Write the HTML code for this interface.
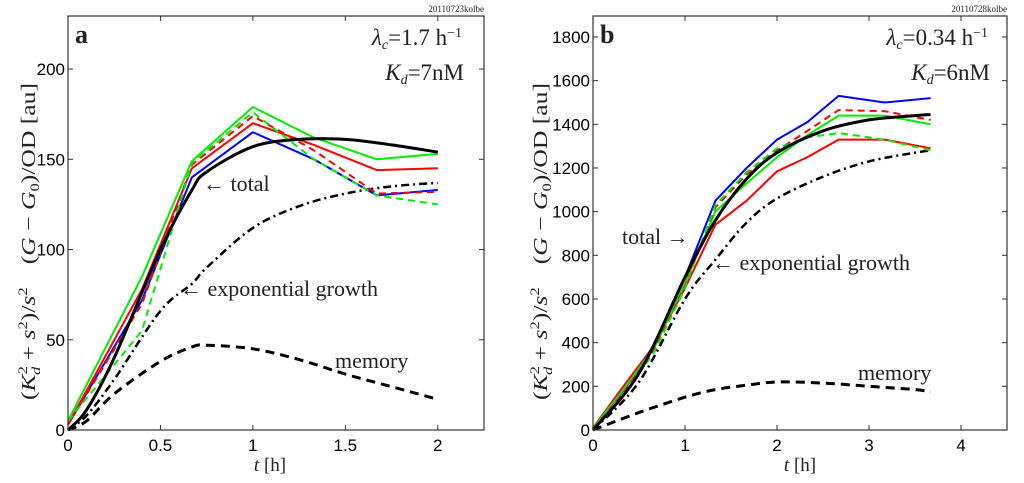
<!DOCTYPE html>
<html><head><meta charset="utf-8"><style>
html,body{margin:0;padding:0;background:#fff;width:1024px;height:483px;overflow:hidden}
svg{display:block}
.tk{font-family:"Liberation Sans",sans-serif;font-size:17px;fill:#000}
.ser{font-family:"Liberation Serif",serif;fill:#222}
</style></head><body>
<svg id="fig" width="1024" height="483"></svg>
<script>
// ---- Panel a data ----
const aTime = [0, 0.4, 0.67, 1, 1.33, 1.67, 2];
const aBlue = [3, 72, 140, 165, 150, 130, 133];
const aRed = [3, 78, 145, 170, 158, 144, 145];
const aGreen = [5, 85, 149, 179, 162, 150, 153];
const aRedDash = [3, 70, 147, 174, 155, 131, 132];
const aGreenDash = [5, 55, 148, 176, 150, 130, 125];
const aModelT = [0, 0.1, 0.25, 0.5, 0.67, 0.75, 1, 1.25, 1.5, 1.75, 2];
const aTotal = [0, 11, 40, 100, 133, 143, 157, 161, 161, 158, 154];
const aExp = [0, 8, 28, 66, 81, 90, 112, 124, 131, 135, 137];
const aMem = [0, 5, 20, 38, 46, 47, 45, 39, 31, 24, 17];
const aXTicks = [0, 0.5, 1, 1.5, 2];
const aYTicks = [0, 50, 100, 150, 200];
// ---- Panel b data ----
const bTime = [0, 0.33, 0.67, 1, 1.33, 1.67, 2, 2.33, 2.67, 3.17, 3.67];
const bBlue = [10, 180, 380, 700, 1050, 1200, 1330, 1410, 1530, 1500, 1520];
const bRed = [10, 200, 390, 650, 940, 1050, 1185, 1250, 1330, 1330, 1290];
const bGreen = [8, 185, 380, 670, 1000, 1130, 1250, 1350, 1440, 1440, 1400];
const bRedDash = [5, 170, 370, 660, 1020, 1170, 1280, 1370, 1465, 1460, 1420];
const bGreenDash = [5, 160, 360, 650, 1030, 1180, 1290, 1340, 1360, 1330, 1280];
const bModelT = [0, 0.5, 1, 1.33, 1.67, 2, 2.5, 3, 3.5, 3.67];
const bTotal = [0, 260, 700, 960, 1150, 1270, 1370, 1420, 1440, 1445];
const bExp = [0, 220, 600, 780, 950, 1060, 1160, 1230, 1270, 1280];
const bMem = [0, 80, 150, 185, 205, 220, 215, 200, 185, 175];
const bXTicks = [0, 1, 2, 3, 4];
const bYTicks = [0, 200, 400, 600, 800, 1000, 1200, 1400, 1600, 1800];

const NS = "http://www.w3.org/2000/svg";
const svg = document.getElementById('fig');
function mk(tag, attrs, parent, text) {
  const e = document.createElementNS(NS, tag);
  for (const k in attrs) e.setAttribute(k, attrs[k]);
  if (text !== undefined) e.textContent = text;
  (parent || svg).appendChild(e);
  return e;
}
function smoothPath(pts) {
  let d = 'M' + pts[0][0].toFixed(1) + ' ' + pts[0][1].toFixed(1);
  for (let i = 0; i < pts.length - 1; i++) {
    const p0 = pts[i - 1] || pts[i], p1 = pts[i], p2 = pts[i + 1], p3 = pts[i + 2] || p2;
    const c1 = [p1[0] + (p2[0] - p0[0]) / 6, p1[1] + (p2[1] - p0[1]) / 6];
    const c2 = [p2[0] - (p3[0] - p1[0]) / 6, p2[1] - (p3[1] - p1[1]) / 6];
    d += ' C' + c1.map(v => v.toFixed(1)).join(' ') + ' ' + c2.map(v => v.toFixed(1)).join(' ') + ' ' + p2[0].toFixed(1) + ' ' + p2[1].toFixed(1);
  }
  return d;
}

function panel(p) {
  const g = mk('g', {});
  
  
  const sx = t => p.x0 + t / p.xmax * (p.x1 - p.x0);
  const sy = v => p.yb - v / p.ymax * (p.yb - p.yt);
  const line = (xs, ys, color, width, dash, name, smooth) => {
    const pts = xs.map((t, i) => [sx(t), sy(ys[i])]);
    const d = smooth ? smoothPath(pts) : pts.map((q, i) => (i ? 'L' : 'M') + q[0].toFixed(1) + ' ' + q[1].toFixed(1)).join(' ');
    const el = mk('path', { d: d, fill: 'none', stroke: color, 'stroke-width': width, 'stroke-dasharray': dash || 'none', 'stroke-linejoin': 'round' }, g);
    
    
  };
  p.xt.forEach(t => {
    mk('line', { x1: sx(t), x2: sx(t), y1: p.yb, y2: p.yb - 5, stroke: '#333' }, g);
    mk('line', { x1: sx(t), x2: sx(t), y1: p.yt, y2: p.yt + 5, stroke: '#333' }, g);
    const l = mk('text', { x: sx(t), y: p.yb + 21, 'text-anchor': 'middle', class: 'tk' }, g, String(t));
    
    
  });
  p.yt_.forEach(v => {
    mk('line', { x1: p.x0, x2: p.x0 + 5, y1: sy(v), y2: sy(v), stroke: '#333' }, g);
    mk('line', { x1: p.x1, x2: p.x1 - 5, y1: sy(v), y2: sy(v), stroke: '#333' }, g);
    const l = mk('text', { x: p.x0 - 3, y: sy(v) + 6, 'text-anchor': 'end', class: 'tk' }, g, String(v));
    
    
  });
  line(p.mt, p.mem, '#000', 3, '9 6', 'memory-curve', true);
  line(p.mt, p.exp, '#000', 2.5, '8 4 2 4', 'exponential-growth-curve', true);
  line(p.t, p.blue, '#0000ff', 2, '', 'blue-series');
  line(p.t, p.red, '#ff0000', 2, '', 'red-series');
  line(p.t, p.green, '#00ee00', 2, '', 'green-series');
  line(p.t, p.redd, '#ff0000', 2, '7 5', 'red-dashed-series');
  line(p.t, p.greend, '#00ee00', 2, '7 5', 'green-dashed-series');
  line(p.mt, p.total, '#000', 3, '', 'total-curve', true);
  const box = mk('rect', { x: p.x0, y: p.yt, width: p.x1 - p.x0, height: p.yb - p.yt, fill: 'none', stroke: '#333', 'stroke-width': 1.2 }, g);
  
  
  return g;
}

panel({ name: 'panel-a', x0: 68, x1: 484, yt: 16, yb: 430, xmax: 2.25, ymax: 229.4,
  xt: aXTicks, yt_: aYTicks, t: aTime, blue: aBlue, red: aRed, green: aGreen, redd: aRedDash, greend: aGreenDash,
  mt: aModelT, total: aTotal, exp: aExp, mem: aMem });
panel({ name: 'panel-b', x0: 593, x1: 1007, yt: 16, yb: 430, xmax: 4.5, ymax: 1896,
  xt: bXTicks, yt_: bYTicks, t: bTime, blue: bBlue, red: bRed, green: bGreen, redd: bRedDash, greend: bGreenDash,
  mt: bModelT, total: bTotal, exp: bExp, mem: bMem });

function txt(x, y, s, size, name, extra) {
  const a = Object.assign({ x: x, y: y, class: 'ser', 'font-size': size }, extra || {});
  const e = mk('text', a);
  e.innerHTML = s;
  
  
  return e;
}
txt(75, 43, 'a', 26, 'panel-a-label', { 'font-weight': 'bold', fill: '#000' });
txt(462, 45, '<tspan font-style="italic">λ</tspan><tspan font-style="italic" font-size="14" dy="4">c</tspan><tspan dy="-4">=1.7 h</tspan><tspan font-size="14" dy="-8">−1</tspan>', 23, 'lambda-a', { 'text-anchor': 'end' });
txt(464, 80, '<tspan font-style="italic">K</tspan><tspan font-style="italic" font-size="14" dy="4">d</tspan><tspan dy="-4">=7nM</tspan>', 23, 'kd-a', { 'text-anchor': 'end' });
txt(203, 191, '← total', 22, 'total-label-a');
txt(180, 296, '← exponential growth', 22, 'exp-label-a');
txt(335, 368, 'memory', 22, 'memory-label-a');
txt(270, 471, '<tspan font-style="italic">t</tspan> [h]', 19, 'x-axis-title-a', { 'text-anchor': 'middle' });
txt(600, 43, 'b', 26, 'panel-b-label', { 'font-weight': 'bold', fill: '#000' });
txt(988, 45, '<tspan font-style="italic">λ</tspan><tspan font-style="italic" font-size="14" dy="4">c</tspan><tspan dy="-4">=0.34 h</tspan><tspan font-size="14" dy="-8">−1</tspan>', 23, 'lambda-b', { 'text-anchor': 'end' });
txt(990, 80, '<tspan font-style="italic">K</tspan><tspan font-style="italic" font-size="14" dy="4">d</tspan><tspan dy="-4">=6nM</tspan>', 23, 'kd-b', { 'text-anchor': 'end' });
txt(622, 244, 'total →', 22, 'total-label-b');
txt(712, 270, '← exponential growth', 22, 'exp-label-b');
txt(858, 380, 'memory', 22, 'memory-label-b');
txt(800, 471, '<tspan font-style="italic">t</tspan> [h]', 19, 'x-axis-title-b', { 'text-anchor': 'middle' });
[[35, 'y-axis-title-a'], [547, 'y-axis-title-b']].forEach(([x, n]) => {
  txt(0, 0, '(<tspan font-style="italic">K</tspan><tspan font-size="13" dy="-8">2</tspan><tspan font-style="italic" font-size="13" dx="-7" dy="13">d</tspan><tspan dy="-5"> + </tspan><tspan font-style="italic">s</tspan><tspan font-size="13" dy="-8">2</tspan><tspan dy="8">)/</tspan><tspan font-style="italic">s</tspan><tspan font-size="13" dy="-8">2</tspan><tspan dy="8" dx="18">(</tspan><tspan font-style="italic">G</tspan> − <tspan font-style="italic">G</tspan><tspan font-size="13" dy="4">0</tspan><tspan dy="-4">)/OD [au]</tspan>', 20, n, { transform: 'translate(' + x + ',400) rotate(-90)', textLength: 317, lengthAdjust: 'spacingAndGlyphs' });
});
txt(484, 12, '20110723kolbe', 9, 'stamp-a', { 'text-anchor': 'end', fill: '#bbb', 'font-family': 'Liberation Sans' });
txt(1007, 12, '20110728kolbe', 9, 'stamp-b', { 'text-anchor': 'end', fill: '#bbb', 'font-family': 'Liberation Sans' });
</script>
</body></html>
